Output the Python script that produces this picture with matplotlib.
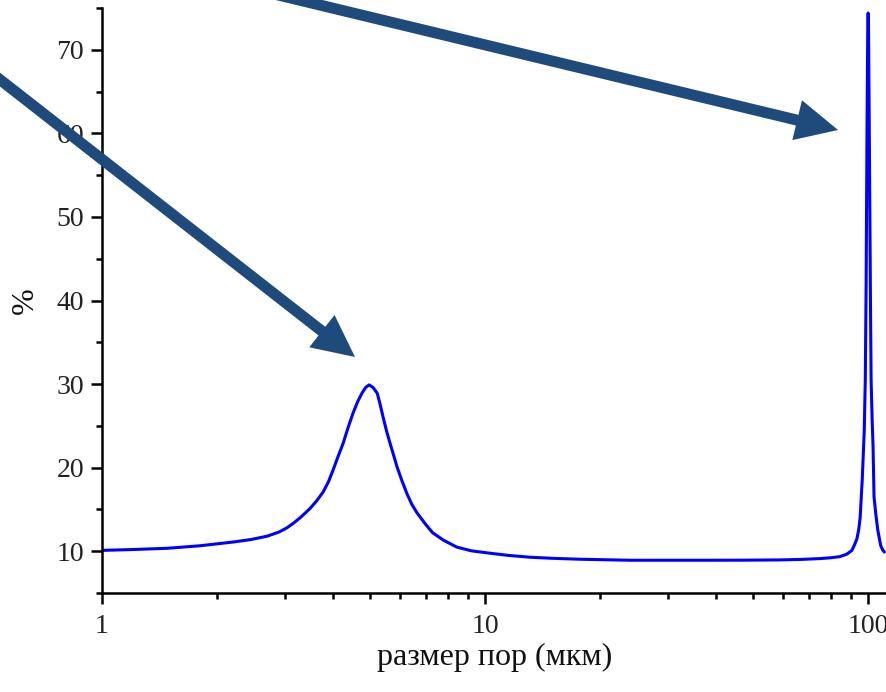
import matplotlib
matplotlib.use("Agg")
import matplotlib.pyplot as plt
from matplotlib.patches import FancyArrow
from matplotlib.transforms import IdentityTransform
from matplotlib.ticker import LogLocator, MultipleLocator, FixedLocator, FixedFormatter, NullFormatter

# Data
pore_size = [1.0, 1.2, 1.48, 1.8, 2.2, 2.45, 2.7, 2.9, 3.04, 3.17, 3.29, 3.49,
             3.63, 3.78, 3.9, 4.01, 4.13, 4.26, 4.39, 4.52, 4.65, 4.77, 4.88,
             4.98, 5.10, 5.23, 5.32, 5.42, 5.53, 5.65, 5.77, 5.89, 6.06, 6.25,
             6.44, 6.64, 7.0, 7.30, 7.8, 8.43, 9.2, 10.3, 11.5, 13.1, 15.0,
             17.7, 23.9, 30.0, 39.4, 48.0, 58.9, 67.0, 75.0, 80.0, 84.3, 88.0,
             90.7, 92.0, 93.5, 94.5, 95.3, 96.5, 97.0, 97.7, 98.3, 98.8, 99.3,
             99.8, 100.0, 100.2, 100.7, 101.4, 101.8, 102.4, 103.0, 103.6, 104.8,
             106.0, 107.8, 109.0, 110.2]
percent = [10.1, 10.2, 10.35, 10.65, 11.1, 11.4, 11.8, 12.3, 12.8, 13.4, 14.0, 15.1,
           16.0, 17.1, 18.3, 19.7, 21.3, 22.9, 24.8, 26.5, 27.9, 28.9, 29.6,
           29.9, 29.6, 28.9, 27.6, 26.0, 24.4, 22.9, 21.5, 20.1, 18.5, 16.9,
           15.6, 14.6, 13.2, 12.2, 11.3, 10.5, 10.05, 9.76, 9.5, 9.28, 9.15,
           9.04, 8.92, 8.92, 8.92, 8.93, 8.96, 9.02, 9.12, 9.22, 9.35, 9.65,
           10.1, 10.7, 11.5, 12.6, 14.0, 18.5, 21.0, 24.5, 30.5, 42.0, 60.0,
           73.5, 74.4, 73.5, 60.0, 40.0, 30.5, 26.0, 22.5, 16.5, 14.3,
           12.5, 10.7, 10.2, 9.9]

x_ticks = [1, 10, 100]
x_tick_labels = ["1", "10", "100"]
y_ticks = [10, 20, 30, 40, 50, 60, 70]
x_label = "размер пор (мкм)"
y_label = "%"

plt.rcParams['font.family'] = ['Liberation Serif', 'DejaVu Serif']

W, H = 887, 692
fig = plt.figure(figsize=(W / 100, H / 100), dpi=100)
ax = fig.add_axes([102 / W, 99 / H, 785 / W, 585 / H])

ax.plot(pore_size, percent, color='#0000ff', lw=2.2, solid_joinstyle='round',
        solid_capstyle='round')
ax.set_xscale('log')
ax.set_xlim(1, 112)
ax.set_ylim(5, 75)

ax.xaxis.set_major_locator(FixedLocator(x_ticks))
ax.xaxis.set_major_formatter(FixedFormatter(x_tick_labels))
ax.xaxis.set_minor_locator(LogLocator(base=10, subs=range(2, 10)))
ax.xaxis.set_minor_formatter(NullFormatter())
ax.yaxis.set_major_locator(FixedLocator(y_ticks))
ax.yaxis.set_minor_locator(MultipleLocator(5))

for s in ['top', 'right']:
    ax.spines[s].set_visible(False)
for s in ['left', 'bottom']:
    ax.spines[s].set_linewidth(1.8)
    ax.spines[s].set_color('black')

ax.tick_params(axis='both', which='major', direction='out', length=8, width=1.8,
               labelsize=20, labelcolor='#222222')
ax.tick_params(axis='both', which='minor', direction='out', length=4.5, width=1.8)
ax.tick_params(axis='x', which='major', pad=7)
ax.tick_params(axis='y', which='major', pad=5)

ax.set_xlabel(x_label, fontsize=23, color='#111111', labelpad=3)
ax.set_ylabel(y_label, fontsize=23, color='#111111', labelpad=12)

# Annotation arrows (image pixel coordinates, y measured from top)
arrow_color = '#1F4A7C'
def add_arrow(x0, y0, x1, y1):
    a = FancyArrow(x0, H - y0, x1 - x0, -(y1 - y0), width=11, head_width=41,
                   head_length=42, length_includes_head=True,
                   transform=IdentityTransform(), color=arrow_color, lw=0,
                   clip_on=False)
    fig.add_artist(a)

add_arrow(270, -7, 838, 130)
add_arrow(-20, 64, 355, 357)

fig.savefig('out.png', dpi=100)
